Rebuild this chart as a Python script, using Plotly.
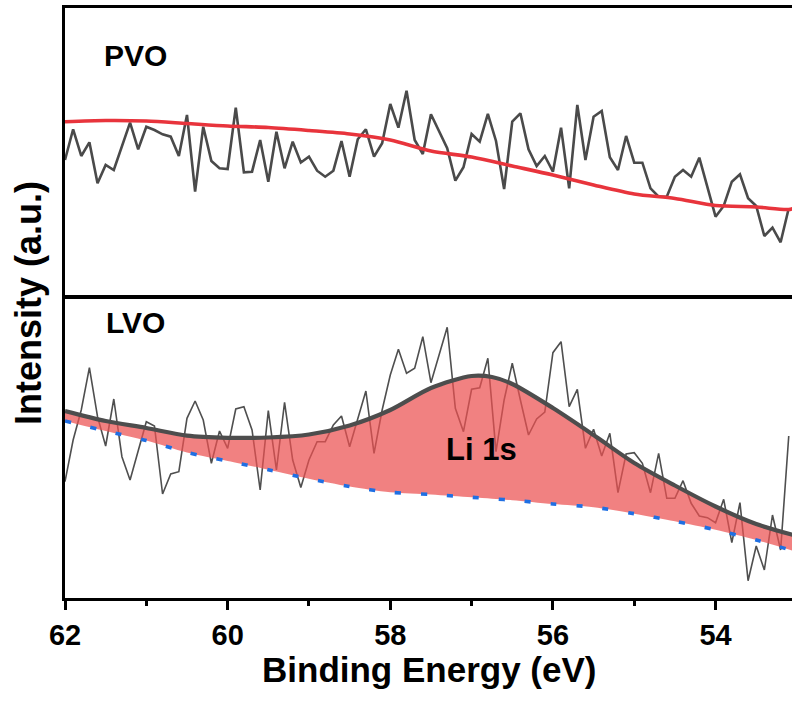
import numpy as np
import plotly.graph_objects as go

# Binding energy grid of the scans (eV), 0.1 eV step
energy = np.round(62.0 - 0.1 * np.arange(90), 2)

# PVO: raw Li 1s region scan (a.u.)
pvo_raw = [137, 167.7, 141, 154.7, 113.7, 132, 127, 150.3, 174.3, 147.7,
           170.3, 167, 162.7, 160.3, 141, 182, 105.3, 170.3, 136, 128.7,
           128, 189.3, 124.7, 125.3, 157, 115.3, 165.3, 128.7, 155.3, 134.5,
           140.3, 126.3, 120.3, 126.3, 156, 120.3, 157.7, 167.7, 140.3, 153.7,
           193, 169.3, 206.3, 157, 143, 182.7, 165.3, 148.7, 116.3, 129.7,
           163, 155.3, 183, 156, 108, 175.3, 183.7, 147.7, 131, 141,
           125.3, 169.3, 108.7, 192, 137, 180.3, 186, 139.7, 127, 161,
           134.3, 134.3, 108.7, 100.3, 100.3, 120.3, 127, 120.3, 139.3, 110.3,
           80.3, 91, 115.3, 122.7, 98.7, 91, 61, 69.3, 54.7, 88.7]

# PVO: background curve
pvo_bg_energy = [62.0, 61.5, 61.0, 60.5, 60.0, 59.5, 59.0, 58.5, 58.0, 57.5,
                 57.0, 56.5, 56.0, 55.5, 55.0, 54.5, 54.0, 53.5, 53.1, 53.0]
pvo_bg = [175.3, 176.5, 176, 173.5, 171, 169.5, 166.5, 163, 157, 146,
          140, 131, 122, 112, 103, 98.5, 91.5, 90, 87.5, 90]

# LVO: raw Li 1s region scan (a.u.)
lvo_raw = [116.3, 158, 188, 230.3, 181.3, 152, 199, 141.3, 118, 148,
           176.3, 172, 104, 124, 126.3, 179.7, 197, 178, 134.7, 167,
           149.7, 189, 191.3, 168, 108, 187.3, 128, 195.7, 138, 110.5,
           138, 156.3, 156.3, 173, 182, 151.3, 178, 207, 144.7, 188,
           223, 248.7, 224.7, 229.7, 261.3, 215.3, 243, 270.7, 189.7, 166.3,
           208.7, 210.3, 239.7, 146.3, 198, 234.7, 198, 163, 179, 186,
           245.3, 256.3, 191.3, 208.7, 149.7, 168.7, 142, 164.7, 105.3, 144,
           145.3, 134.7, 105.3, 144.7, 99.7, 99.7, 117.3, 94.7, 82, 80.3,
           75.3, 98.7, 55.3, 95.3, 17.3, 52, 28, 83, 48, 162]

# LVO: fitted envelope and Shirley-type baseline
fit_energy = [62.0, 61.5, 61.0, 60.5, 60.0, 59.5, 59.0, 58.5, 58.0, 57.5,
              57.0, 56.75, 56.5, 56.0, 55.5, 55.0, 54.5, 54.0, 53.5, 53.0]
lvo_envelope = [187, 177, 170, 162.3, 160.2, 160.5, 163.5, 172.5, 188, 210,
                222, 221, 214, 190, 163, 135, 112.5, 91.5, 74, 62]
lvo_baseline = [177, 167, 157.5, 145.5, 137, 128.3, 119.3, 111.5, 105.7, 103.5,
                100.7, 99.3, 97.8, 94, 90.8, 84.3, 76.8, 68.2, 58, 46]

x_ticks = [62, 60, 58, 56, 54]
x_minor = [61, 59, 57, 55, 53]

FONT = "Liberation Sans, Arial, sans-serif"
split = 0.5102

fig = go.Figure()

# Top panel (PVO)
fig.add_trace(go.Scatter(x=energy, y=pvo_raw, mode="lines",
                         line=dict(color="#4a4a4a", width=2.6),
                         xaxis="x2", yaxis="y2", showlegend=False))
fig.add_trace(go.Scatter(x=pvo_bg_energy, y=pvo_bg, mode="lines",
                         line=dict(color="#e8343c", width=3.6, shape="spline", smoothing=0.8),
                         xaxis="x2", yaxis="y2", showlegend=False))

# Bottom panel (LVO)
fig.add_trace(go.Scatter(x=energy, y=lvo_raw, mode="lines",
                         line=dict(color="#4f4f4f", width=1.6),
                         xaxis="x", yaxis="y", showlegend=False))
fig.add_trace(go.Scatter(x=fit_energy, y=lvo_baseline, mode="lines",
                         line=dict(color="#1f6fe3", width=3.6, dash="6px,20px",
                                   shape="spline", smoothing=0.8),
                         xaxis="x", yaxis="y", showlegend=False))
fig.add_trace(go.Scatter(x=fit_energy, y=lvo_envelope, mode="lines",
                         line=dict(color="#4d4d4d", width=4.2, shape="spline", smoothing=0.8),
                         fill="tonexty", fillcolor="rgba(236,80,80,0.72)",
                         xaxis="x", yaxis="y", showlegend=False))

axis_line = dict(showline=True, linecolor="black", linewidth=3,
                 showgrid=False, zeroline=False)

fig.update_layout(
    width=792, height=718,
    margin=dict(l=65, r=0, t=8, b=120),
    paper_bgcolor="white", plot_bgcolor="white",
    font=dict(family=FONT, color="black"),
    xaxis=dict(**axis_line, domain=[0, 1], range=[62, 53.06], anchor="y",
               ticks="outside", ticklen=9, tickwidth=3, tickcolor="black",
               tickvals=x_ticks, ticktext=[str(v) for v in x_ticks],
               tickfont=dict(size=29, family=FONT, weight="bold"),
               minor=dict(ticks="outside", ticklen=5, tickwidth=3, tickcolor="black",
                          tickvals=x_minor)),
    yaxis=dict(**axis_line, domain=[0, split], range=[0, 301], anchor="x",
               showticklabels=False, ticks=""),
    xaxis2=dict(**axis_line, domain=[0, 1], range=[62, 53.06], anchor="y2", side="top",
                matches="x", showticklabels=False, ticks=""),
    yaxis2=dict(**axis_line, domain=[split, 1], range=[0, 289], anchor="x2",
                showticklabels=False, ticks=""),
)

# Divider between the two panels
fig.add_shape(type="line", xref="paper", yref="paper", x0=-0.004, x1=1,
              y0=split, y1=split, line=dict(color="black", width=4))

label_font = dict(family=FONT, size=30, color="black", weight="bold")
fig.add_annotation(x=61.13, y=242, xref="x2", yref="y2", text="PVO",
                   showarrow=False, font=label_font)
fig.add_annotation(x=61.13, y=275, xref="x", yref="y", text="LVO",
                   showarrow=False, font=label_font)
fig.add_annotation(x=56.88, y=148, xref="x", yref="y", text="Li 1s",
                   showarrow=False, font=dict(family=FONT, size=31, color="black", weight="bold"))

title_font = dict(family=FONT, size=35, color="black", weight="bold")
fig.add_annotation(x=0.5, y=-0.122, xref="paper", yref="paper", text="Binding Energy (eV)",
                   showarrow=False, font=title_font, xanchor="center", yanchor="middle")
fig.add_annotation(x=-0.051, y=0.5, xref="paper", yref="paper", text="Intensity (a.u.)",
                   showarrow=False, font=dict(family=FONT, size=36, color="black", weight="bold"),
                   textangle=-90, xanchor="center", yanchor="middle")

fig.write_html("out.html")
